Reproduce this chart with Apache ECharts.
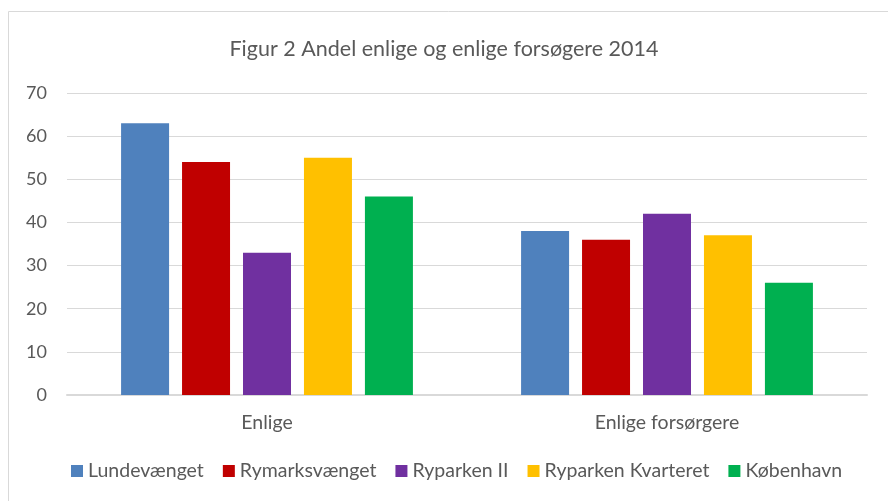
<!DOCTYPE html>
<html>
<head>
<meta charset="utf-8">
<script src="https://cdn.jsdelivr.net/npm/echarts@6/dist/echarts.min.js"></script>
<style>
  html, body { margin: 0; padding: 0; background: #fff; }
  #chart { width: 888px; height: 501px; }
</style>
</head>
<body>
<div id="chart"></div>
<script>
// data
var categories = ["Enlige", "Enlige forsørgere"];
var seriesNames = ["Lundevænget", "Rymarksvænget", "Ryparken II", "Ryparken Kvarteret", "København"];
var lundevaenget = [63, 38];
var rymarksvaenget = [54, 36];
var ryparkenII = [33, 42];
var ryparkenKvarteret = [55, 37];
var koebenhavn = [46, 26];
var colors = ["#4f81bd", "#c00000", "#7030a0", "#ffc000", "#00b050"];

var font = "Lato, 'Open Sans', sans-serif";
var values = [lundevaenget, rymarksvaenget, ryparkenII, ryparkenKvarteret, koebenhavn];

var chart = echarts.init(document.getElementById("chart"));
chart.setOption({
  animation: false,
  color: colors,
  title: {
    text: "Figur 2 Andel enlige og enlige forsøgere 2014",
    left: "center",
    top: 33,
    textStyle: { fontFamily: font, fontSize: 21.5, fontWeight: "normal", color: "#595959" }
  },
  graphic: [{
    type: "rect",
    shape: { x: 8.5, y: 11.5, width: 900, height: 520 },
    style: { fill: "none", stroke: "#d9d9d9", lineWidth: 1 },
    silent: true
  }],
  legend: {
    bottom: 15,
    left: 66,
    itemWidth: 12,
    itemHeight: 12,
    itemGap: 19,
    itemStyle: { borderWidth: 0 },
    icon: "rect",
    textStyle: { fontFamily: font, fontSize: 19.5, color: "#595959" },
    data: seriesNames
  },
  grid: { left: 67, right: 21, top: 93, bottom: 106 },
  xAxis: {
    type: "category",
    data: categories,
    axisLine: { lineStyle: { color: "#d9d9d9", width: 2 } },
    axisTick: { show: false },
    axisLabel: { fontFamily: font, fontSize: 19.5, color: "#595959", margin: 18 }
  },
  yAxis: {
    type: "value",
    min: 0,
    max: 70,
    interval: 10,
    axisLine: { show: false },
    axisTick: { show: false },
    splitLine: { lineStyle: { color: "#d9d9d9", width: 1 } },
    axisLabel: { fontFamily: font, fontSize: 18, color: "#595959", margin: 20 }
  },
  series: seriesNames.map(function (name, i) {
    return {
      name: name,
      type: "bar",
      data: values[i],
      barWidth: 48,
      barGap: "27%"
    };
  })
});
</script>
</body>
</html>
